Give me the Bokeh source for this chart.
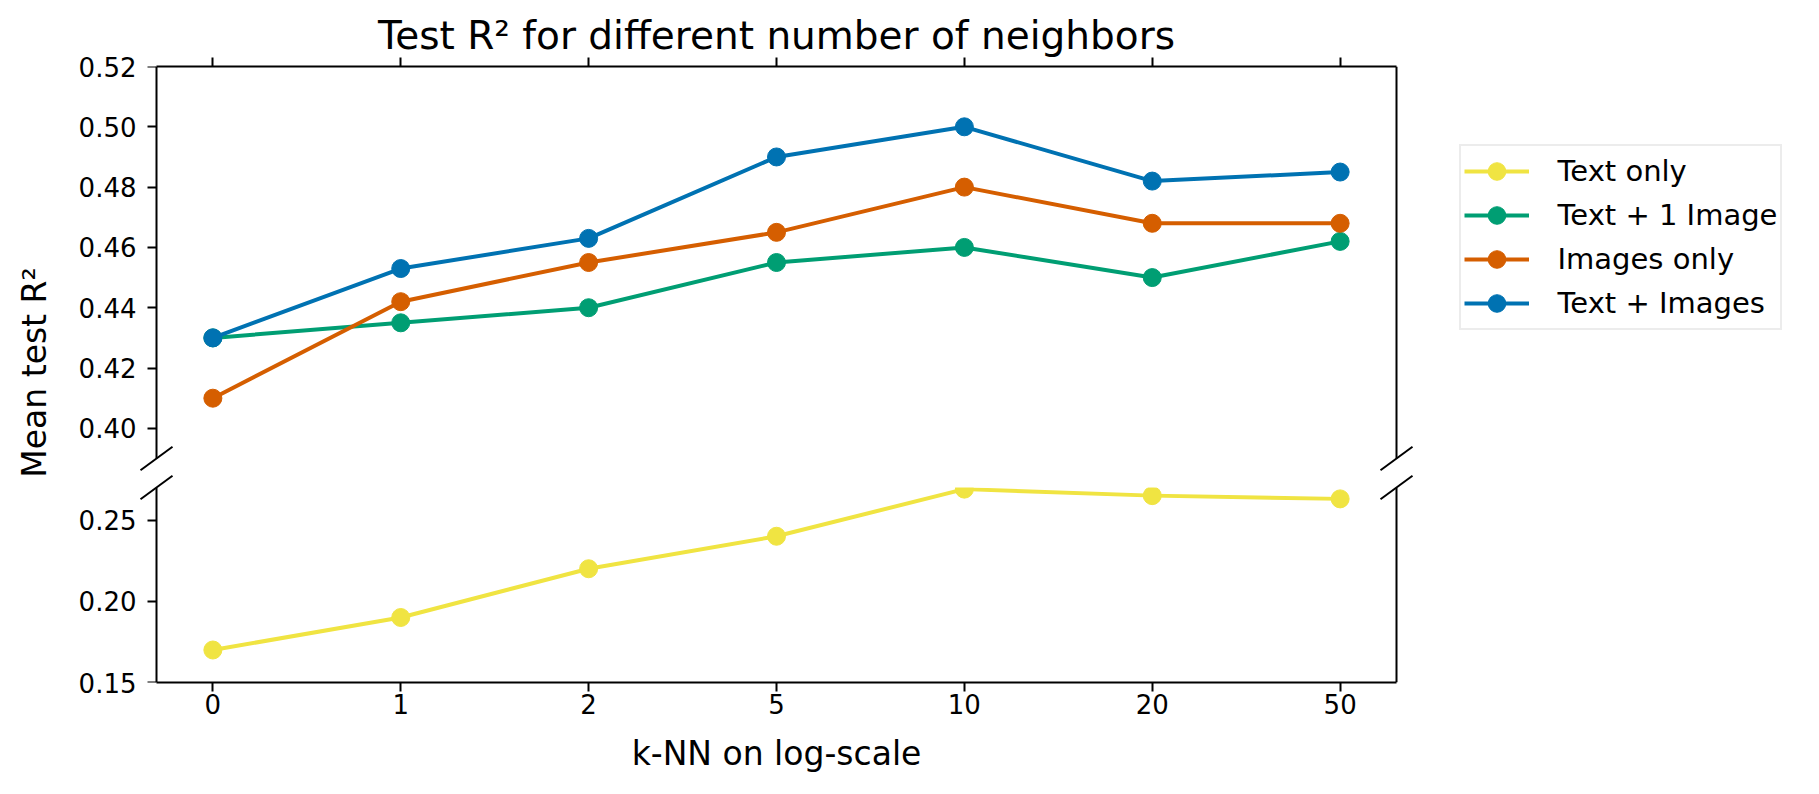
import numpy as np
from bokeh.plotting import figure
from bokeh.models import (Range1d, FixedTicker, LinearAxis, PrintfTickFormatter,
                          Legend, LegendItem, Arrow, BoxAnnotation)
from bokeh.layouts import row, column
from bokeh.core.properties import value
from bokeh.embed import file_html
from bokeh.resources import INLINE

# ---------------- data ----------------
k_labels = ["0", "1", "2", "5", "10", "20", "50"]
series_names = ["Text only", "Text + 1 Image", "Images only", "Text + Images"]
text_only = [0.170, 0.190, 0.220, 0.240, 0.269, 0.265, 0.263]
text_1_image = [0.430, 0.435, 0.440, 0.455, 0.460, 0.450, 0.462]
images_only = [0.410, 0.442, 0.455, 0.465, 0.480, 0.468, 0.468]
text_images = [0.430, 0.453, 0.463, 0.490, 0.500, 0.482, 0.485]
series_colors = ["#F0E442", "#009E73", "#D55E00", "#0072B2"]
upper_ticks = [0.40, 0.42, 0.44, 0.46, 0.48, 0.50, 0.52]
lower_ticks = [0.15, 0.20, 0.25]
upper_lim = (0.39, 0.52)
lower_lim = (0.15, 0.27)

FONT = "DejaVu Sans"
x_idx = list(range(len(k_labels)))
x_pad = 0.3
xlim = (-x_pad, len(k_labels) - 1 + x_pad)

# geometry (pixels)
CORE_W, CORE_H1, CORE_H2 = 1240, 392, 195
EXT_X, EXT_Y1, EXT_Y2 = 18, 14, 15       # room around the cut for the break marks
YW, ML, MR = 66, 72, 397
T1, B2 = 66, 104

ux = (xlim[1] - xlim[0]) / CORE_W
xr = (xlim[0] - EXT_X * ux, xlim[1] + EXT_X * ux)
u1 = (upper_lim[1] - upper_lim[0]) / CORE_H1
u2 = (lower_lim[1] - lower_lim[0]) / CORE_H2
yr1 = (upper_lim[0] - EXT_Y1 * u1, upper_lim[1])
yr2 = (lower_lim[0], lower_lim[1] + EXT_Y2 * u2)
FW = CORE_W + 2 * EXT_X
FH1 = CORE_H1 + EXT_Y1
FH2 = CORE_H2 + EXT_Y2


def make_fig(yr, fh, top, bottom):
    p = figure(frame_width=FW, frame_height=fh,
               x_range=Range1d(*xr), y_range=Range1d(*yr),
               output_backend="svg", toolbar_location=None,
               min_border_left=ML, min_border_right=MR,
               min_border_top=top, min_border_bottom=bottom,
               x_axis_location=None, y_axis_location=None)
    p.outline_line_color = None
    p.background_fill_color = "white"
    p.border_fill_color = "white"
    for g in p.grid:
        g.visible = False
    return p


def style_axis(ax, standoff=10):
    ax.axis_line_width = 2
    ax.axis_line_color = "black"
    ax.major_tick_line_width = 2
    ax.major_tick_line_color = "black"
    ax.major_tick_in = 0
    ax.major_tick_out = 9
    ax.minor_tick_line_width = 2
    ax.minor_tick_line_color = "black"
    ax.minor_tick_in = 0
    ax.minor_tick_out = 9
    ax.major_label_text_font = FONT
    ax.major_label_text_font_size = "26px"
    ax.major_label_text_color = "black"
    ax.major_label_standoff = standoff


def add_frame_axes(p, yticks, ylim, x_side):
    # tick labels at the frame edge (no line, no ticks)
    lab = LinearAxis(ticker=FixedTicker(ticks=yticks),
                     formatter=PrintfTickFormatter(format="%.2f"))
    style_axis(lab, standoff=2)
    lab.axis_line_color = None
    lab.major_tick_line_color = None
    lab.major_tick_out = 0
    p.add_layout(lab, "left")
    # the spine itself, with its ticks
    spine_l = LinearAxis(ticker=FixedTicker(ticks=[], minor_ticks=yticks),
                         fixed_location=xlim[0], bounds=ylim)
    style_axis(spine_l, standoff=0)
    p.add_layout(spine_l, "left")
    spine_r = LinearAxis(ticker=FixedTicker(ticks=[]), fixed_location=xlim[1], bounds=ylim)
    style_axis(spine_r, standoff=0)
    p.add_layout(spine_r, "right")
    if x_side == "below":
        xa = LinearAxis(ticker=FixedTicker(ticks=x_idx), bounds=xlim,
                        major_label_overrides={i: t for i, t in enumerate(k_labels)})
        style_axis(xa, standoff=2)
    else:
        # ticks only, no labels on the top edge
        xa = LinearAxis(ticker=FixedTicker(ticks=[], minor_ticks=x_idx), bounds=xlim)
        style_axis(xa, standoff=0)
    p.add_layout(xa, x_side)
    return xa


p1 = make_fig(yr1, FH1, T1, 0)
p2 = make_fig(yr2, FH2, 0, B2)

add_frame_axes(p1, upper_ticks, upper_lim, "above")
xa2 = add_frame_axes(p2, lower_ticks, lower_lim, "below")
xa2.axis_label = "k-NN on log-scale"
xa2.axis_label_text_font = FONT
xa2.axis_label_text_font_size = "33px"
xa2.axis_label_text_font_style = "normal"
xa2.axis_label_text_color = "black"
xa2.axis_label_standoff = 17

p1.title.text = "Test R\u00b2 for different number of neighbors"
p1.title.align = "center"
p1.title.text_font = FONT
p1.title.text_font_size = "39px"
p1.title.text_font_style = "normal"
p1.title.text_color = "black"
p1.title.standoff = 0

all_series = [text_only, text_1_image, images_only, text_images]
legend_items = []
for name, vals, col in zip(series_names, all_series, series_colors):
    # each series goes through both panels; parts outside a panel's range are clipped
    rs = []
    for p in (p2, p1):
        l = p.line(x_idx, vals, line_color=col, line_width=4, line_join="round")
        s = p.scatter(x_idx, vals, size=18, fill_color=col, line_color=col, line_width=1)
        rs.append((l, s))
    legend_items.append(LegendItem(label=name, renderers=list(rs[1])))

# hide what lies above the lower panel's limit (inside the gap)
p2.add_layout(BoxAnnotation(bottom=lower_lim[1], fill_color="white", fill_alpha=1.0,
                            line_color=None))

legend = Legend(items=legend_items, location=(-173, 142))
legend.label_text_font = FONT
legend.label_text_font_size = "29px"
legend.label_text_color = "black"
legend.glyph_width = 65
legend.glyph_height = 44
legend.label_height = 44
legend.spacing = 0
legend.padding = 3
legend.margin = 0
legend.label_standoff = 29
legend.border_line_color = "#d9d9d9"
legend.border_line_width = 2.5
legend.background_fill_color = "white"
legend.background_fill_alpha = 0.8
p1.add_layout(legend, "right")

# break marks at the cut edges
dx = 16 * ux
for p, y0, dy in ((p1, upper_lim[0], 11.7 * u1), (p2, lower_lim[1], 11.7 * u2)):
    for x0 in xlim:
        p.add_layout(Arrow(end=None, x_start=x0 - dx, y_start=y0 - dy,
                           x_end=x0 + dx, y_end=y0 + dy,
                           line_width=2, line_color="black"))

H_total = (T1 + FH1) + (FH2 + B2)
ylab = figure(width=YW, height=H_total, x_range=Range1d(0, YW), y_range=Range1d(0, H_total),
              output_backend="svg", toolbar_location=None, min_border=0,
              x_axis_location=None, y_axis_location=None)
ylab.outline_line_color = None
for g in ylab.grid:
    g.visible = False
label_center_from_top = 372
ylab.text(x=[34], y=[H_total - label_center_from_top], text=["Mean test R\u00b2"],
          angle=np.pi / 2, text_align="center", text_baseline="middle",
          text_font=value(FONT), text_font_size=value("33px"), text_color="black")

layout = row(ylab, column(p1, p2))
open("out.html", "w").write(file_html(layout, INLINE))
